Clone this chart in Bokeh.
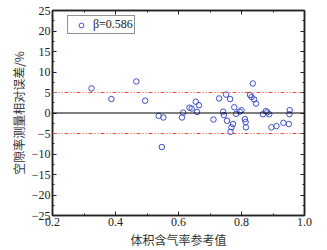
from bokeh.plotting import figure
from bokeh.models import (FixedTicker, LinearAxis, Span, Legend, LegendItem,
                          Range1d, CustomJSTickFormatter)
from bokeh.embed import file_html
from bokeh.resources import INLINE

# data
ref_x = [0.324, 0.387, 0.466, 0.494, 0.537, 0.552, 0.547, 0.611, 0.615, 0.635,
         0.642, 0.655, 0.665, 0.659, 0.711, 0.729, 0.751, 0.764, 0.742, 0.744,
         0.754, 0.768, 0.773, 0.765, 0.777, 0.783, 0.794, 0.800, 0.811, 0.813,
         0.814, 0.827, 0.832, 0.836, 0.840, 0.846, 0.868, 0.877, 0.882, 0.888,
         0.895, 0.911, 0.933, 0.950, 0.953, 0.952]
rel_err = [6.0, 3.4, 7.7, 3.0, -0.7, -1.1, -8.3, -1.1, 0.1, 1.3,
           1.1, 2.75, 1.9, 0.25, -1.6, 3.55, 4.5, 3.4, 0.33, -0.5,
           -1.9, -3.5, -2.7, -4.6, 1.4, -0.2, 0.33, 0.65, -1.5, -2.2,
           -3.5, 4.4, 3.9, 7.2, 3.3, 2.3, -0.3, 0.45, 0.2, -0.3,
           -3.5, -3.2, -2.4, -2.7, 0.7, -0.3]
series_label = "β=0.586"
x_ticks = [0.2, 0.4, 0.6, 0.8, 1.0]
x_tick_labels = ["0.2", "0.4", "0.6", "0.8", "1.0"]
x_minor = [0.3, 0.5, 0.7, 0.9]
y_ticks = [-25, -20, -15, -10, -5, 0, 5, 10, 15, 20, 25]
y_minor = [-22.5, -17.5, -12.5, -7.5, -2.5, 2.5, 7.5, 12.5, 17.5, 22.5]
limit_lines = [5, -5]
x_title = "体积含气率参考值"
y_title = "空隙率测量相对误差/%"

SERIF = "Liberation Serif"
CJK = "Noto Sans CJK SC"
AXC = "#222222"

p = figure(width=327, height=250, output_backend="svg", toolbar_location=None,
           x_range=Range1d(0.2, 1.0), y_range=Range1d(-25, 25),
           min_border_left=52, min_border_right=23, min_border_top=10,
           min_border_bottom=33)
p.xgrid.visible = False
p.ygrid.visible = False
p.outline_line_color = AXC
p.outline_line_width = 1.5
p.background_fill_color = "white"
p.border_fill_color = "white"

def style_axis(ax, ticks, minor, labels=True, overrides=None):
    ax.ticker = FixedTicker(ticks=ticks, minor_ticks=minor)
    ax.major_tick_in = 4
    ax.major_tick_out = 0
    ax.minor_tick_in = 2
    ax.minor_tick_out = 0
    ax.axis_line_color = AXC
    ax.axis_line_width = 1.5
    ax.major_tick_line_color = AXC
    ax.minor_tick_line_color = AXC
    ax.major_tick_line_width = 1
    ax.minor_tick_line_width = 1
    ax.major_label_text_font = SERIF
    ax.major_label_text_font_size = "12px"
    ax.major_label_text_color = "#222222"
    ax.major_label_standoff = 2
    if overrides:
        ax.major_label_overrides = overrides
    if not labels:
        ax.formatter = CustomJSTickFormatter(code="return ''")
        ax.major_label_text_font_size = "1px"
        ax.major_label_standoff = 0

style_axis(p.xaxis[0], x_ticks, x_minor,
           overrides={t: l for t, l in zip(x_ticks, x_tick_labels)})
style_axis(p.yaxis[0], y_ticks, y_minor)
p.xaxis[0].axis_label = x_title
p.yaxis[0].axis_label = y_title
for ax in (p.xaxis[0], p.yaxis[0]):
    ax.axis_label_text_font = CJK
    ax.axis_label_text_font_size = "12px"
    ax.axis_label_text_font_style = "normal"
    ax.axis_label_text_color = "#333333"
    ax.axis_label_standoff = 2

top = LinearAxis()
right = LinearAxis()
style_axis(top, x_ticks, x_minor, labels=False)
style_axis(right, y_ticks, y_minor, labels=False)
p.add_layout(top, "above")
p.add_layout(right, "right")

p.add_layout(Span(location=0, dimension="width", line_color="black",
                  line_width=1.2))
for v in limit_lines:
    p.add_layout(Span(location=v, dimension="width", line_color="#e8503a",
                      line_width=1, line_dash="4 2 1 2 1 2"))

r = p.scatter(ref_x, rel_err, marker="circle", size=5.5, fill_color=None,
              line_color="#3f4fc4", line_width=1)

legend = Legend(items=[LegendItem(label=series_label, renderers=[r])],
                location=(15, 181))
legend.border_line_color = "#222222"
legend.border_line_width = 1
legend.background_fill_color = "white"
legend.padding = 1
legend.margin = 0
legend.glyph_width = 24
legend.glyph_height = 12
legend.label_height = 12
legend.label_standoff = 0
legend.label_text_font = SERIF
legend.label_text_font_size = "12px"
legend.label_text_color = "#222222"
p.add_layout(legend)

open("out.html", "w").write(file_html(p, INLINE))
